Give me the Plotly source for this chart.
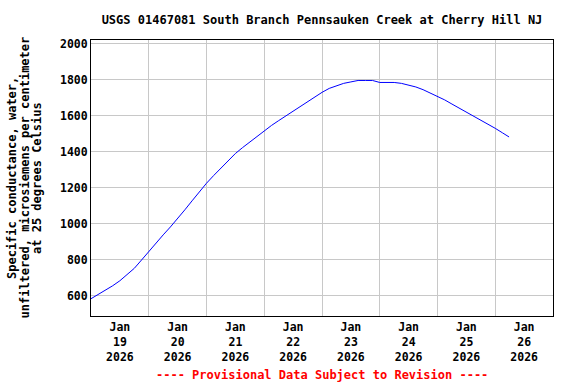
import plotly.graph_objects as go
import pandas as pd

# Specific conductance readings (uS/cm), every 3 hours from Jan 19 2026 00:00, plus final reading
values = [583, 606, 630, 655, 683, 715, 752, 798,
          846, 893, 938, 982, 1028, 1077, 1127, 1177,
          1225, 1268, 1310, 1350, 1390, 1423, 1455, 1487,
          1518, 1546, 1573, 1600, 1627, 1654, 1680, 1706,
          1730, 1752, 1768, 1780, 1788, 1796, 1796, 1796,
          1785, 1785, 1785, 1780, 1770, 1760, 1745, 1727,
          1710, 1688, 1665, 1643, 1620, 1598, 1575, 1553,
          1530, 1505]
last_time = "2026-01-26 05:45"
last_value = 1482

times = list(pd.date_range("2026-01-19 00:00", periods=len(values), freq="3h")) + [pd.Timestamp(last_time)]
values = values + [last_value]

day_labels = ["Jan<br>19<br>2026", "Jan<br>20<br>2026", "Jan<br>21<br>2026", "Jan<br>22<br>2026",
              "Jan<br>23<br>2026", "Jan<br>24<br>2026", "Jan<br>25<br>2026", "Jan<br>26<br>2026"]
label_times = [f"2026-01-{d:02d} 12:00" for d in range(19, 27)]
grid_times = [f"2026-01-{d:02d} 00:00" for d in range(20, 27)]
y_ticks = [600, 800, 1000, 1200, 1400, 1600, 1800, 2000]

title = "USGS 01467081 South Branch Pennsauken Creek at Cherry Hill NJ"
ytitle_lines = ["Specific conductance, water,",
                "unfiltered, microsiemens per centimeter",
                "at 25 degrees Celsius"]
footer = "---- Provisional Data Subject to Revision ----"

FONT = "DejaVu Sans Mono"

fig = go.Figure(go.Scatter(x=times, y=values, mode="lines",
                           line=dict(color="#0000ff", width=1)))

fig.update_layout(
    width=576, height=384,
    margin=dict(l=91, r=23, t=40, b=68),
    plot_bgcolor="white", paper_bgcolor="white",
    showlegend=False,
    title=dict(text=title, x=0.5, xref="paper", y=1 - 20 / 384, yref="container",
               yanchor="middle", xanchor="center",
               font=dict(family=FONT, size=12, color="black", weight="bold")),
    xaxis=dict(range=["2026-01-19 00:00", "2026-01-27 00:00"],
               tickmode="array", tickvals=label_times, ticktext=day_labels,
               showgrid=False, ticks="", zeroline=False,
               showline=True, linecolor="black", linewidth=1, mirror=True,
               tickfont=dict(family=FONT, size=11.5, color="black", weight="bold"),
               minor=dict(tickmode="array", tickvals=grid_times, showgrid=True,
                          gridcolor="#c8c8c8", gridwidth=1, ticks="")),
    yaxis=dict(range=[487, 2021], tickmode="array", tickvals=y_ticks,
               showgrid=True, gridcolor="#c8c8c8", gridwidth=1, ticks="",
               zeroline=False, showline=True, linecolor="black", linewidth=1, mirror=True,
               tickfont=dict(family=FONT, size=11.5, color="black", weight="bold")),
)

for px, line in zip([12, 24.5, 37], ytitle_lines):
    fig.add_annotation(text=line, xref="paper", yref="paper", x=(px - 91) / 462, y=0.5,
                       textangle=-90, showarrow=False, xanchor="center", yanchor="middle",
                       font=dict(family=FONT, size=12, color="black", weight="bold"))

fig.add_annotation(text=footer, xref="paper", yref="paper", x=0.5, y=(316 - 375) / 276,
                   showarrow=False, xanchor="center", yanchor="middle",
                   font=dict(family=FONT, size=12, color="#ff0000", weight="bold"))

fig.write_html("out.html", config={"displayModeBar": False},
               post_script="document.body.style.margin='0';document.body.style.overflow='hidden';")
